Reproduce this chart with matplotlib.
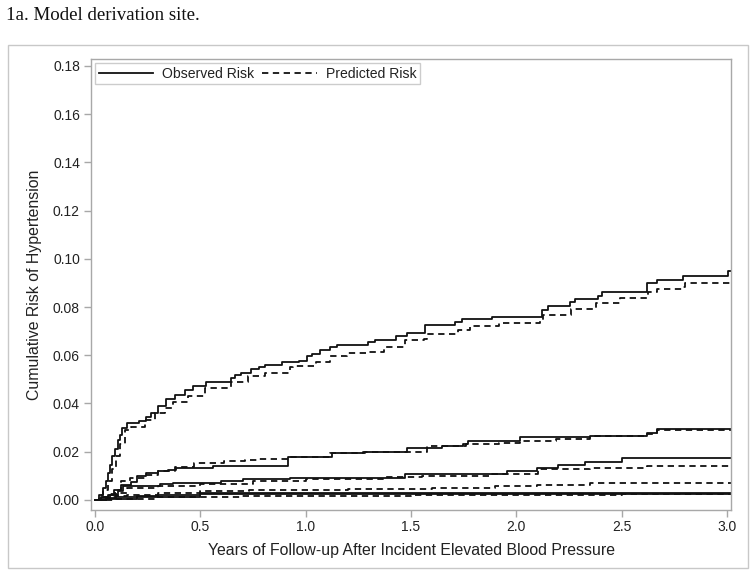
import matplotlib
matplotlib.use("Agg")
import matplotlib.pyplot as plt
from matplotlib.patches import Rectangle
from matplotlib.lines import Line2D

# ---- data (years, cumulative risk) ----
g1_obs_t = [0.0, 0.02, 0.04, 0.05, 0.06, 0.07, 0.08, 0.095, 0.11, 0.12, 0.13, 0.153, 0.21, 0.24, 0.267, 0.30, 0.338, 0.378, 0.426, 0.465, 0.528, 0.647, 0.665, 0.694, 0.742, 0.78, 0.805, 0.886, 0.97, 1.005, 1.03, 1.07, 1.115, 1.147, 1.297, 1.33, 1.43, 1.48, 1.566, 1.708, 1.74, 1.883, 2.12, 2.15, 2.254, 2.278, 2.389, 2.405, 2.618, 2.666, 2.79, 3.006, 3.03]
g1_obs_v = [0.0, 0.002, 0.005, 0.008, 0.011, 0.0145, 0.018, 0.021, 0.025, 0.027, 0.030, 0.032, 0.0329, 0.0345, 0.036, 0.039, 0.042, 0.0436, 0.0454, 0.0473, 0.0488, 0.0505, 0.052, 0.0526, 0.0542, 0.0553, 0.056, 0.057, 0.0578, 0.0595, 0.0606, 0.0622, 0.0634, 0.0643, 0.0653, 0.0664, 0.0678, 0.0694, 0.0726, 0.074, 0.075, 0.076, 0.0788, 0.0805, 0.0819, 0.0833, 0.0846, 0.0862, 0.0899, 0.0913, 0.093, 0.0951, 0.0951]

g1_pred_t = [0.0, 0.02, 0.04, 0.06, 0.08, 0.10, 0.12, 0.141, 0.17, 0.236, 0.283, 0.33, 0.37, 0.44, 0.52, 0.647, 0.726, 0.805, 0.924, 0.94, 1.05, 1.115, 1.195, 1.29, 1.37, 1.47, 1.56, 1.574, 1.724, 1.78, 1.92, 2.11, 2.128, 2.26, 2.38, 2.49, 2.626, 2.666, 2.79, 2.80, 3.03]
g1_pred_v = [0.0, 0.002, 0.004, 0.008, 0.013, 0.018, 0.023, 0.029, 0.0304, 0.033, 0.036, 0.038, 0.0408, 0.0429, 0.0463, 0.049, 0.0512, 0.0528, 0.0553, 0.0556, 0.0574, 0.0598, 0.0611, 0.0615, 0.0634, 0.0664, 0.0667, 0.0688, 0.0705, 0.0722, 0.0733, 0.0747, 0.0768, 0.0791, 0.0816, 0.0837, 0.0864, 0.0874, 0.0885, 0.0899, 0.0899]

g2_obs_t = [0.0, 0.03, 0.06, 0.09, 0.125, 0.17, 0.20, 0.244, 0.30, 0.347, 0.386, 0.56, 0.918, 1.123, 1.273, 1.48, 1.645, 1.748, 1.77, 2.017, 2.35, 2.618, 2.666, 3.03]
g2_obs_v = [0.0, 0.001, 0.002, 0.004, 0.0062, 0.0076, 0.0097, 0.011, 0.0118, 0.0124, 0.0134, 0.014, 0.0176, 0.0196, 0.020, 0.0214, 0.0224, 0.0232, 0.0244, 0.026, 0.0266, 0.0277, 0.0293, 0.0295]

g2_pred_t = [0.0, 0.04, 0.07, 0.093, 0.123, 0.165, 0.236, 0.30, 0.378, 0.47, 0.61, 0.71, 0.774, 0.918, 1.115, 1.28, 1.574, 1.76, 1.92, 2.017, 2.19, 2.35, 2.618, 2.666, 3.03]
g2_pred_v = [0.0, 0.001, 0.0025, 0.0041, 0.0079, 0.009, 0.0104, 0.0118, 0.0138, 0.0152, 0.0163, 0.0166, 0.0171, 0.0177, 0.0194, 0.020, 0.0224, 0.0232, 0.0238, 0.0246, 0.0252, 0.0266, 0.0274, 0.0290, 0.0293]

g3_obs_t = [0.0, 0.03, 0.07, 0.11, 0.134, 0.307, 0.372, 0.498, 0.60, 0.704, 0.925, 1.47, 1.954, 2.096, 2.20, 2.326, 2.50, 3.03]
g3_obs_v = [0.0, 0.0008, 0.002, 0.0035, 0.0058, 0.0066, 0.0069, 0.0072, 0.008, 0.0086, 0.009, 0.0106, 0.0118, 0.0131, 0.0145, 0.0159, 0.0173, 0.0173]

g3_pred_t = [0.0, 0.05, 0.10, 0.15, 0.30, 0.50, 0.75, 1.0, 1.37, 1.55, 1.875, 2.105, 2.35, 2.62, 3.03]
g3_pred_v = [0.0, 0.0012, 0.003, 0.005, 0.0058, 0.0066, 0.0080, 0.0087, 0.0094, 0.0098, 0.0108, 0.0127, 0.0133, 0.0141, 0.0146]

g4_obs_t = [0.0, 0.05, 0.10, 0.20, 0.30, 0.50, 1.50, 3.03]
g4_obs_v = [0.0, 0.0006, 0.0012, 0.0017, 0.0021, 0.0028, 0.0030, 0.0031]

g4_pred_t = [0.0, 0.05, 0.10, 0.15, 0.30, 0.50, 0.73, 1.2, 1.6, 1.9, 2.1, 2.35, 2.62, 3.03]
g4_pred_v = [0.0, 0.0008, 0.0015, 0.0022, 0.0030, 0.0036, 0.0040, 0.0045, 0.0050, 0.0056, 0.0062, 0.0068, 0.0071, 0.0074]

g5_obs_t = [0.0, 0.05, 0.20, 0.50, 1.20, 3.03]
g5_obs_v = [0.0, 0.0004, 0.0010, 0.0024, 0.0026, 0.0028]

g5_pred_t = [0.0, 0.10, 0.30, 0.70, 1.50, 2.50, 3.03]
g5_pred_v = [0.0, 0.0005, 0.0012, 0.0018, 0.0022, 0.0026, 0.0029]

observed = [(g1_obs_t, g1_obs_v), (g2_obs_t, g2_obs_v), (g3_obs_t, g3_obs_v), (g4_obs_t, g4_obs_v), (g5_obs_t, g5_obs_v)]
predicted = [(g1_pred_t, g1_pred_v), (g2_pred_t, g2_pred_v), (g3_pred_t, g3_pred_v), (g4_pred_t, g4_pred_v), (g5_pred_t, g5_pred_v)]

x_ticks = [0.0, 0.5, 1.0, 1.5, 2.0, 2.5, 3.0]
y_ticks = [0.00, 0.02, 0.04, 0.06, 0.08, 0.10, 0.12, 0.14, 0.16, 0.18]

title_text = "1a. Model derivation site."
x_label = "Years of Follow-up After Incident Elevated Blood Pressure"
y_label = "Cumulative Risk of Hypertension"
legend_labels = ["Observed Risk", "Predicted Risk"]

# ---- figure ----
plt.rcParams['font.family'] = ['Liberation Sans', 'DejaVu Sans']
fig = plt.figure(figsize=(7.54, 5.76), dpi=100)
W, H = 754, 576

def fx(px):
    return px / W

def fy(py):
    return 1 - py / H

# outer light frame
fig.patches.append(Rectangle((fx(8), fy(568)), fx(748) - fx(8), fy(45) - fy(568),
                             transform=fig.transFigure, fill=False,
                             edgecolor='#c8c8c8', linewidth=1.0))

fig.text(fx(6), fy(16), title_text, family=['Liberation Serif', 'DejaVu Serif'],
         fontsize=13.6, ha='left', va='center', color='#111111')

ax = fig.add_axes([fx(91), fy(510), fx(731) - fx(91), fy(59) - fy(510)])

line_color = '#111111'
dash = (0, (3.5, 2.5))
for t, v in observed:
    ax.step(t, v, where='post', color=line_color, linewidth=1.3, linestyle='-')
for t, v in predicted:
    ax.step(t, v, where='post', color=line_color, linewidth=1.3, linestyle=dash)

ax.set_xlim(-0.019, 3.019)
ax.set_ylim(-0.0042, 0.1829)
ax.set_xticks(x_ticks)
ax.set_xticklabels([f"{x:.1f}" for x in x_ticks])
ax.set_yticks(y_ticks)
ax.set_yticklabels([f"{y:.2f}" for y in y_ticks])

for s in ax.spines.values():
    s.set_color('#a8a8a8')
    s.set_linewidth(1.0)
ax.tick_params(axis='both', direction='out', length=5, width=1.0, color='#a8a8a8',
               labelsize=10, labelcolor='#222222', pad=3)
ax.tick_params(axis='x', pad=2)

ax.set_xlabel(x_label, fontsize=11.4, color='#222222', labelpad=7)
ax.set_ylabel(y_label, fontsize=11.4, color='#222222', labelpad=8)

handles = [Line2D([0], [0], color=line_color, linewidth=1.3, linestyle='-'),
           Line2D([0], [0], color=line_color, linewidth=1.3, linestyle=dash)]
leg = ax.legend(handles, legend_labels, loc='upper left', ncol=2, fontsize=10.1,
                frameon=True, fancybox=False, handlelength=3.9, handletextpad=0.6,
                columnspacing=0.6, borderpad=0.25, borderaxespad=0.3)
leg.get_frame().set_edgecolor('#c0c0c0')
leg.get_frame().set_linewidth(1.0)
for txt in leg.get_texts():
    txt.set_color('#222222')

fig.savefig("out.png", dpi=100)
